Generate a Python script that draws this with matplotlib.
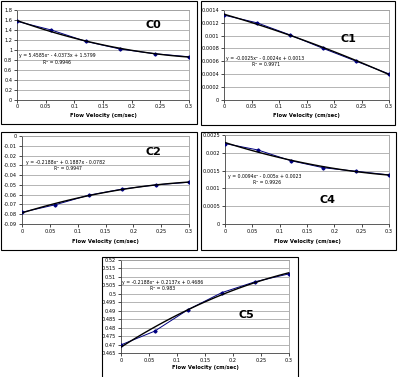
import numpy as np
import matplotlib
matplotlib.use("Agg")
import matplotlib.pyplot as plt
from matplotlib.patches import Rectangle

W, H = 398, 377

flow_velocity = [0.0, 0.06, 0.12, 0.18, 0.24, 0.30]
c0_values = [1.572, 1.397, 1.169, 1.015, 0.921, 0.859]
c1_values = [0.00132, 0.00120, 0.00101, 0.00080, 0.00060, 0.00040]
c2_values = [-0.0780, -0.0703, -0.0605, -0.0543, -0.0500, -0.0473]
c4_values = [0.00226, 0.00208, 0.00178, 0.00158, 0.00148, 0.00138]
c5_values = [0.4698, 0.4779, 0.4907, 0.5007, 0.5072, 0.5118]

x_ticks = [0, 0.05, 0.1, 0.15, 0.2, 0.25, 0.3]
x_tick_labels = ["0", "0.05", "0.1", "0.15", "0.2", "0.25", "0.3"]

c0_yticks = [0, 0.2, 0.4, 0.6, 0.8, 1.0, 1.2, 1.4, 1.6, 1.8]
c0_ylabels = ["0", "0.2", "0.4", "0.6", "0.8", "1", "1.2", "1.4", "1.6", "1.8"]
c1_yticks = [0, 0.0002, 0.0004, 0.0006, 0.0008, 0.0010, 0.0012, 0.0014]
c1_ylabels = ["0", "0.0002", "0.0004", "0.0006", "0.0008", "0.001", "0.0012", "0.0014"]
c2_yticks = [0, -0.01, -0.02, -0.03, -0.04, -0.05, -0.06, -0.07, -0.08, -0.09]
c2_ylabels = ["0", "-0.01", "-0.02", "-0.03", "-0.04", "-0.05", "-0.06", "-0.07", "-0.08", "-0.09"]
c4_yticks = [0, 0.0005, 0.001, 0.0015, 0.002, 0.0025]
c4_ylabels = ["0", "0.0005", "0.001", "0.0015", "0.002", "0.0025"]
c5_yticks = [0.465, 0.47, 0.475, 0.48, 0.485, 0.49, 0.495, 0.5, 0.505, 0.51, 0.515, 0.52]
c5_ylabels = ["0.465", "0.47", "0.475", "0.48", "0.485", "0.49", "0.495", "0.5", "0.505", "0.51", "0.515", "0.52"]

eq_texts = {
    "C0": ("y = 5.4585x² - 4.0373x + 1.5799", "R² = 0.9946"),
    "C1": ("y = -0.0025x² - 0.0024x + 0.0013", "R² = 0.9971"),
    "C2": ("y = -0.2188x² + 0.1887x - 0.0782", "R² = 0.9947"),
    "C4": ("y = 0.0094x² - 0.005x + 0.0023", "R² = 0.9926"),
    "C5": ("y = -0.2188x² + 0.2137x + 0.4686", "R² = 0.983"),
}

fig = plt.figure(figsize=(W / 100, H / 100), dpi=100)
fig.patch.set_facecolor("white")

# chart frames (pixel boxes: x0, y0, x1, y1)
frames = [(1, 1, 197, 124), (201, 1, 395, 125), (1, 132, 197, 250),
          (201, 132, 396, 250), (102, 257, 298, 380)]
for (x0, y0, x1, y1) in frames:
    fig.patches.append(Rectangle((x0 / W, 1 - y1 / H), (x1 - x0) / W, (y1 - y0) / H,
                                 transform=fig.transFigure, fill=False,
                                 edgecolor="black", linewidth=0.8))


def panel(box, yvals, yticks, ylabels, ylim, name, name_xy, eq_xy, r_xy, xlabel_y):
    left, right, top, bottom = box
    ax = fig.add_axes([left / W, 1 - bottom / H, (right - left) / W, (bottom - top) / H])
    ax.set_xlim(0, 0.3)
    ax.set_ylim(*ylim)
    ax.set_xticks(x_ticks)
    ax.set_xticklabels(x_tick_labels, fontsize=3.6)
    ax.set_yticks(yticks)
    ax.set_yticklabels(ylabels, fontsize=3.6)
    ax.tick_params(length=2, width=0.5, pad=1.5, direction="out")
    for t in yticks:
        ax.axhline(t, color="#a8a8a8", linewidth=0.6, zorder=0)
    for s in ["top", "right"]:
        ax.spines[s].set_color("#a0a0a0")
        ax.spines[s].set_linewidth(0.6)
    for s in ["left", "bottom"]:
        ax.spines[s].set_color("#404040")
        ax.spines[s].set_linewidth(0.6)
    ax.plot(flow_velocity, yvals, color="#000080", linewidth=0.7, marker="D",
            markersize=1.6, zorder=3)
    coef = np.polyfit(flow_velocity, yvals, 2)
    xs = np.linspace(0, 0.3, 100)
    ax.plot(xs, np.polyval(coef, xs), color="black", linewidth=1.0, zorder=4)
    fig.text(name_xy[0] / W, 1 - name_xy[1] / H, name, fontsize=8, fontweight="bold",
             ha="center", va="center")
    e, r = eq_texts[name]
    fig.text(eq_xy[0] / W, 1 - eq_xy[1] / H, e, fontsize=3.3, ha="center", va="center")
    fig.text(r_xy[0] / W, 1 - r_xy[1] / H, r, fontsize=3.3, ha="center", va="center")
    fig.text((left + right) / 2 / W, 1 - xlabel_y / H, "Flow Velocity (cm/sec)",
             fontsize=3.8, fontweight="bold", ha="center", va="center")
    return ax


panel((17, 189, 10, 99.5), c0_values, c0_yticks, c0_ylabels, (0, 1.8), "C0",
      (153, 25), (57, 55.5), (57, 62), 116)
panel((224, 389, 10, 99.5), c1_values, c1_yticks, c1_ylabels, (0, 0.0014), "C1",
      (348, 39), (265, 58.5), (266, 65), 116)
panel((22, 189, 136, 224), c2_values, c2_yticks, c2_ylabels, (-0.09, 0), "C2",
      (153, 152), (66, 162.5), (68, 169), 242)
panel((225, 389, 135, 224), c4_values, c4_yticks, c4_ylabels, (0, 0.0025), "C4",
      (327, 200), (265, 176.5), (267, 183), 242)
panel((121, 289, 260, 353), c5_values, c5_yticks, c5_ylabels, (0.465, 0.52), "C5",
      (246, 315), (163, 282.5), (163, 289), 368)

fig.savefig("out.png", dpi=100, facecolor="white")
